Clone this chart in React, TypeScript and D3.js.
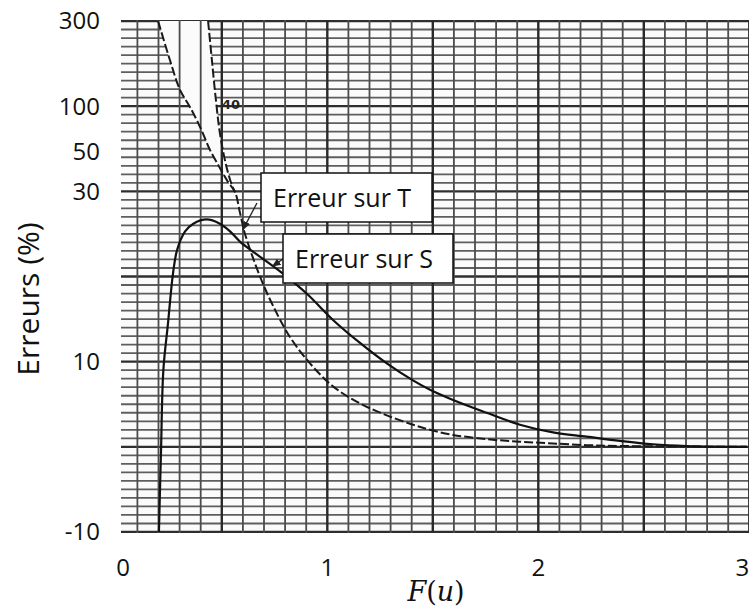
import React from "react";
import * as d3 from "d3";

// Axis ticks
const xTicks = [0, 1, 2, 3];
const yTicks = [-10, 10, 30, 50, 100, 300];

// Error on S (solid curve): F(u) and error in %
const sF = [0.202, 0.212, 0.223, 0.245, 0.269, 0.288, 0.326, 0.365, 0.428, 0.491, 0.539, 0.586, 0.649, 0.776, 0.902, 1.027, 1.155, 1.282, 1.406, 1.487, 1.596, 1.755, 1.913, 2.07, 2.229, 2.387, 2.543, 2.703, 2.988];
const sErr = [-10, -0.4, 9.0, 14.5, 20.4, 23.1, 25.3, 26.2, 26.7, 26.2, 25.3, 24.1, 22.9, 20.6, 18.0, 14.9, 12.2, 9.8, 7.8, 6.7, 5.5, 4.0, 2.6, 1.7, 1.2, 0.7, 0.3, 0.1, 0.0];

// Error on T (dashed curve)
const tF = [0.198, 0.254, 0.302, 0.349, 0.397, 0.444, 0.491, 0.529, 0.563, 0.586, 0.61, 0.681, 0.744, 0.823, 0.918, 1.027, 1.155, 1.282, 1.406, 1.487, 1.596, 1.755, 1.913, 2.07, 2.229, 2.387, 2.988];
const tErr = [300, 208.5, 138, 99.1, 77.3, 52.2, 41.9, 34.8, 29.9, 27.5, 25.0, 20.0, 16.5, 12.9, 9.8, 7.1, 5.1, 3.7, 2.6, 2.0, 1.4, 0.9, 0.6, 0.4, 0.2, 0.1, 0.0];

// Secondary dashed branch labelled "40"
const c40F = [0.435, 0.453, 0.472, 0.491, 0.52, 0.548, 0.563];
const c40Err = [300, 208.5, 114.6, 70.7, 43.4, 33.1, 29.9];

const W = 752;
const H = 608;

export default function App() {
  const x = d3.scaleLinear().domain([0, 3]).range([116.3, 749.3]);
  // graph-paper rows (uniform), 60 rows
  const paperY = d3.scaleLinear().domain([0, 60]).range([532, 21]);
  // error scale: linear from -10 to 30, compressed above
  const y = d3
    .scaleLinear()
    .domain([-10, 30, 50, 100, 300])
    .range([paperY(0), paperY(40), 152, paperY(50), paperY(60)]);

  const left = 121;
  const right = 749;
  const top = paperY(60);
  const bottom = paperY(0) + 1;

  const line = d3
    .line<[number, number]>()
    .x((d) => x(d[0]))
    .y((d) => y(d[1]))
    .curve(d3.curveCatmullRom.alpha(0.5));

  const sPts = sF.map((f, i) => [f, sErr[i]] as [number, number]);
  const tPts = tF.map((f, i) => [f, tErr[i]] as [number, number]);
  const c40Pts = c40F.map((f, i) => [f, c40Err[i]] as [number, number]);

  // blank wedge between the T curve and the "40" branch: closed outline
  const mergeF = c40F[c40F.length - 1];
  const tUpper = tPts.filter((p) => p[0] <= mergeF + 1e-9);
  const wedgeOutline = tUpper.concat(c40Pts.slice().reverse().slice(1));
  const wedgePath = (d3.line<[number, number]>().x((d) => x(d[0])).y((d) => y(d[1]))(wedgeOutline) || "") + "Z";

  const rows = d3.range(0, 61);
  const cols = d3.range(0, 31).map((k) => k / 10);

  const sans = "'Open Sans', 'Noto Sans', sans-serif";

  // annotation arrow tips sit on the curves
  const tTip: [number, number] = [x(0.6), y(25.5)];
  const sTip: [number, number] = [x(0.74), y(21.2)];

  return (
    <svg width={W} height={H} viewBox={`0 0 ${W} ${H}`} style={{ position: "absolute", left: 0, top: 0, background: "#fff" }}>
      <defs>
        <clipPath id="paper">
          <rect x={left} y={top - 1} width={right - left} height={bottom - top + 1} />
        </clipPath>
        <mask id="wedgeMask" maskUnits="userSpaceOnUse" x={0} y={0} width={W} height={H}>
          <rect x={0} y={0} width={W} height={H} fill="#fff" />
          <path d={wedgePath} fill="#000" />
        </mask>
        <marker id="arrow" viewBox="0 0 10 10" refX="9" refY="5" markerWidth="7" markerHeight="7" orient="auto-start-reverse">
          <path d="M0,1 L10,5 L0,9 Z" fill="#222" />
        </marker>
      </defs>

      <g clipPath="url(#paper)">
        <rect x={left} y={top - 1} width={right - left} height={bottom - top + 1} fill="#fbfbfb" />
        {/* horizontal graph-paper lines, blanked inside the wedge */}
        <g mask="url(#wedgeMask)">
          {rows.map((r) => (
            <line
              key={"h" + r}
              x1={left}
              x2={right}
              y1={paperY(r)}
              y2={paperY(r)}
              stroke={r % 10 === 0 ? "#2e2e2e" : "#5e5e5e"}
              strokeWidth={r % 10 === 0 ? 2.4 : 1.8}
            />
          ))}
        </g>
        {/* vertical graph-paper lines */}
        {cols.map((c, i) => (
          <line
            key={"v" + i}
            x1={x(c)}
            x2={x(c)}
            y1={top - 1}
            y2={bottom}
            stroke={i % 5 === 0 ? "#2a2a2a" : "#4c4c4c"}
            strokeWidth={i % 5 === 0 ? 2.4 : 1.8}
          />
        ))}

        {/* curves */}
        <path d={line(c40Pts) || ""} fill="none" stroke="#1a1a1a" strokeWidth={2} strokeDasharray="9 3" />
        <path d={line(tPts) || ""} fill="none" stroke="#1a1a1a" strokeWidth={2} strokeDasharray="9 3" />
        <path d={line(sPts) || ""} fill="none" stroke="#111" strokeWidth={2.2} />
        <text x={x(0.472) + 6} y={y(100) + 3} fontSize={13} fontWeight="bold" fontFamily="'DejaVu Sans', sans-serif" fill="#222">
          40
        </text>
      </g>

      {/* annotations */}
      <line x1={257} y1={203} x2={tTip[0]} y2={tTip[1]} stroke="#222" strokeWidth={1.3} markerEnd="url(#arrow)" />
      <line x1={283} y1={259} x2={sTip[0]} y2={sTip[1]} stroke="#222" strokeWidth={1.3} markerEnd="url(#arrow)" />
      <rect x={261} y={173} width={171} height={49} fill="#fff" stroke="#111" strokeWidth={1.5} />
      <text x={273} y={207} fontSize={25} fontFamily={sans} fill="#111">
        Erreur sur T
      </text>
      <rect x={283} y={234} width={170} height={49} fill="#fff" stroke="#111" strokeWidth={1.5} />
      <text x={295} y={268} fontSize={25} fontFamily={sans} fill="#111">
        Erreur sur S
      </text>

      {/* y axis labels */}
      {yTicks.map((v) => (
        <text key={"yt" + v} x={100} y={y(v)} dy="0.35em" textAnchor="end" fontSize={24} fontFamily={sans} fill="#111">
          {v}
        </text>
      ))}
      <text transform={`translate(39,${299}) rotate(-90)`} textAnchor="middle" fontSize={30} fontFamily={sans} fill="#111">
        Erreurs (%)
      </text>

      {/* x axis labels */}
      {xTicks.map((v, i) => (
        <text
          key={"xt" + v}
          x={x(v)}
          y={568}
          dy="0.35em"
          textAnchor={i === 0 ? "start" : i === xTicks.length - 1 ? "end" : "middle"}
          fontSize={24}
          fontFamily={sans}
          fill="#111"
        >
          {v}
        </text>
      ))}
      <text x={436} y={601} textAnchor="middle" fontSize={27} fontFamily="'DejaVu Serif', 'Liberation Serif', serif" fill="#111">
        <tspan fontStyle="italic">F</tspan>
        <tspan>(</tspan>
        <tspan fontStyle="italic">u</tspan>
        <tspan>)</tspan>
      </text>
    </svg>
  );
}
